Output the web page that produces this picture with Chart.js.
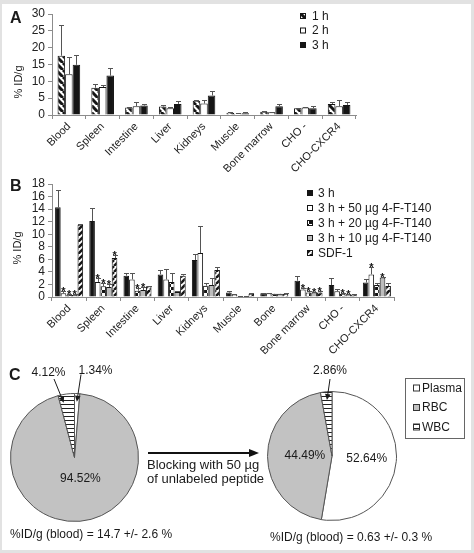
<!DOCTYPE html>
<html>
<head>
<meta charset="utf-8">
<title>Biodistribution</title>
<script src="https://cdn.jsdelivr.net/npm/chart.js@4.4.1/dist/chart.umd.min.js"></script>
<style>
  html, body { margin: 0; padding: 0; }
  body { width: 474px; height: 553px; background: #e2e2e2; position: relative; overflow: hidden;
         font-family: "Liberation Sans", Arial, sans-serif; color: #1a1a1a; }
  #paper { position: absolute; left: 2px; top: 4px; width: 469px; height: 546px; background: #fff; }
  canvas, .txt, svg { position: absolute; }
  .letter { font-weight: bold; font-size: 16px; line-height: 16px; }
  .ytitle { font-size: 11px; line-height: 11px; white-space: nowrap; transform: translate(-50%, -50%) rotate(-90deg); }
  .note { font-size: 12px; line-height: 14px; white-space: nowrap; }
  .block { font-size: 13px; line-height: 14px; white-space: nowrap; }
</style>
</head>
<body>
<div id="paper"></div>

<canvas id="chartA" width="470" height="172" style="left:0;top:0"></canvas>
<canvas id="chartB" width="470" height="192" style="left:0;top:170px"></canvas>
<canvas id="pieBefore" width="150" height="175" style="left:0;top:360px"></canvas>
<canvas id="pieAfter" width="210" height="185" style="left:260px;top:360px"></canvas>

<div class="txt letter" style="left:10px;top:9.5px">A</div>
<div class="txt letter" style="left:10px;top:177.5px">B</div>
<div class="txt letter" style="left:9px;top:366.5px">C</div>
<div class="txt ytitle" style="left:18px;top:82px">% ID/g</div>
<div class="txt ytitle" style="left:17px;top:248px">% ID/g</div>

<svg width="474" height="553" style="left:0;top:0">
  <line x1="148" y1="453" x2="251" y2="453" stroke="#111" stroke-width="2"/>
  <polygon points="259,453 249,449 249,457" fill="#111"/>
</svg>
<div class="txt block" style="left:147px;top:457.5px">Blocking with 50 µg<br>of unlabeled peptide</div>
<div class="txt note" style="left:10px;top:527px">%ID/g (blood) = 14.7 +/- 2.6 %</div>
<div class="txt note" style="left:270px;top:530px">%ID/g (blood) = 0.63 +/- 0.3 %</div>

<script>
// ---------- data ----------
// panel A: uptake over time
const organsA = ['Blood', 'Spleen', 'Intestine', 'Liver', 'Kidneys', 'Muscle', 'Bone marrow', 'CHO -', 'CHO-CXCR4'];
const timeLabels = ['1 h', '2 h', '3 h'];
const hour1   = [17.6, 8.1, 2.2, 2.5, 4.2, 0.7, 1.0, 2.0, 3.3];
const hour1Sd = [9.2, 1.0, 0.2, 0.5, 0.2, 0.1, 0.2, 0.2, 0.7];
const hour2   = [12.1, 8.3, 2.6, 2.0, 3.4, 0.4, 0.8, 2.2, 2.6];
const hour2Sd = [5.1, 0.6, 1.2, 0.4, 1.0, 0.1, 0.1, 0.1, 1.8];
const hour3   = [14.9, 11.7, 2.8, 3.3, 5.8, 0.5, 2.6, 2.0, 3.0];
const hour3Sd = [2.8, 2.2, 0.4, 0.9, 1.2, 0.3, 0.7, 0.7, 0.8];
const yTicksA = [0, 5, 10, 15, 20, 25, 30];

// panel B: blocking
const organsB = ['Blood', 'Spleen', 'Intestine', 'Liver', 'Kidneys', 'Muscle', 'Bone', 'Bone marrow', 'CHO -', 'CHO-CXCR4'];
const blockLabels = ['3 h', '3 h + 50 µg 4-F-T140', '3 h + 20 µg 4-F-T140', '3 h + 10 µg 4-F-T140', 'SDF-1'];
const b3h     = [14.3, 12.1, 3.4, 3.6, 5.9, 0.7, 0.6, 2.6, 1.9, 2.3];
const b3hSd   = [2.7, 2.0, 0.5, 0.7, 0.9, 0.3, 0.1, 0.8, 1.1, 0.5];
const b50     = [0.6, 2.4, 2.8, 2.8, 7.0, 0.4, 0.6, 1.2, 0.9, 3.6];
const b50Sd   = [0.4, 0.6, 1.1, 1.6, 4.3, 0.1, 0.1, 0.3, 0.3, 1.2];
const b20     = [0.3, 1.7, 1.0, 2.4, 1.8, 0.1, 0.5, 0.7, 0.5, 1.9];
const b20Sd   = [0.1, 0.5, 0.4, 1.5, 0.4, 0.05, 0.05, 0.2, 0.1, 0.3];
const b10     = [0.3, 1.6, 1.1, 0.8, 1.9, 0.1, 0.5, 0.7, 0.4, 3.1];
const b10Sd   = [0.1, 0.4, 0.5, 0.1, 1.1, 0.05, 0.05, 0.1, 0.1, 0.1];
const bSdf    = [11.5, 6.2, 1.7, 3.4, 4.3, 0.5, 0.5, 0.7, 0.4, 1.75];
const bSdfSd  = [0.1, 0.5, 0.1, 0.3, 0.4, 0.1, 0.1, 0.2, 0.1, 0.5];
// significance marks (*)
const star50  = [1, 1, 0, 0, 0, 0, 0, 1, 0, 1];
const star20  = [1, 1, 1, 0, 0, 0, 0, 1, 1, 0];
const star10  = [1, 1, 1, 0, 0, 0, 0, 1, 1, 1];
const starSdf = [0, 1, 0, 0, 0, 0, 0, 1, 0, 0];
const yTicksB = [0, 2, 4, 6, 8, 10, 12, 14, 16, 18];

// panel C: blood fractions
const fractions = ['Plasma', 'RBC', 'WBC'];
const bloodBefore = [1.34, 94.52, 4.12];
const bloodAfter  = [52.64, 44.49, 2.86];

// ---------- look ----------
const FONT = '"Liberation Sans", Arial, sans-serif';
Chart.defaults.font.family = FONT;
Chart.defaults.color = '#222';
Chart.defaults.animation = false;
const AXIS = '#8c8c8c';
const INK = '#151515';

// fill patterns
function stripes(dir, size, lw) {
    const c = document.createElement('canvas');
    c.width = c.height = size;
    const g = c.getContext('2d');
    g.fillStyle = '#fff';
    g.fillRect(0, 0, size, size);
    g.strokeStyle = INK;
    g.lineWidth = lw;
    for (let k = -1; k <= 1; k++) {
        g.beginPath();
        if (dir === 'down') {
            g.moveTo(k * size, 0); g.lineTo(k * size + size, size);
        } else {
            g.moveTo(k * size, size); g.lineTo(k * size + size, 0);
        }
        g.stroke();
    }
    return g.createPattern(c, 'repeat');
}
function checker(sq) {
    const c = document.createElement('canvas');
    c.width = c.height = sq * 2;
    const g = c.getContext('2d');
    g.fillStyle = '#fff';
    g.fillRect(0, 0, sq * 2, sq * 2);
    g.fillStyle = INK;
    g.fillRect(0, 0, sq, sq);
    g.fillRect(sq, sq, sq, sq);
    return g.createPattern(c, 'repeat');
}
function hlines(gap) {
    const c = document.createElement('canvas');
    c.width = 4; c.height = gap;
    const g = c.getContext('2d');
    g.fillStyle = '#fff';
    g.fillRect(0, 0, 4, gap);
    g.fillStyle = '#222';
    g.fillRect(0, 0, 4, 1);
    return g.createPattern(c, 'repeat');
}

// error bars (upper half) and significance stars
const errorBars = {
    id: 'errorBars',
    afterDatasetsDraw(chart) {
        const ctx = chart.ctx;
        const yScale = chart.scales.y;
        ctx.save();
        chart.data.datasets.forEach((ds, di) => {
            chart.getDatasetMeta(di).data.forEach((bar, i) => {
                const x = Math.round(bar.x) + 0.5;
                let top = bar.y;
                if (ds.sd && ds.sd[i] > 0) {
                    top = Math.round(yScale.getPixelForValue(ds.data[i] + ds.sd[i])) + 0.5;
                    ctx.strokeStyle = '#555';
                    ctx.lineWidth = 1;
                    ctx.beginPath();
                    ctx.moveTo(x, bar.y);
                    ctx.lineTo(x, top);
                    ctx.moveTo(x - 2.5, top);
                    ctx.lineTo(x + 2.5, top);
                    ctx.stroke();
                }
                if (ds.stars && ds.stars[i]) {
                    ctx.fillStyle = INK;
                    ctx.font = 'bold 11px ' + FONT;
                    ctx.textAlign = 'center';
                    ctx.textBaseline = 'alphabetic';
                    ctx.fillText('*', bar.x, top + 3);
                }
            });
        });
        ctx.restore();
    }
};

// y tick labels, one per value of the tick list, placed by the y scale
const yLabels = {
    id: 'yLabels',
    afterDraw(chart, args, opts) {
        const ctx = chart.ctx;
        const scale = chart.scales.y;
        ctx.save();
        ctx.font = '12px ' + FONT;
        ctx.fillStyle = '#222';
        ctx.textAlign = 'right';
        ctx.textBaseline = 'middle';
        opts.values.forEach(v => {
            ctx.fillText(String(v), scale.right - 7, scale.getPixelForValue(v));
        });
        ctx.restore();
    }
};

// small square legend like the original
const squareLegend = {
    id: 'squareLegend',
    afterDraw(chart, args, opts) {
        const ctx = chart.ctx;
        ctx.save();
        ctx.font = '12px ' + FONT;
        ctx.textBaseline = 'middle';
        ctx.textAlign = 'left';
        chart.data.datasets.forEach((ds, i) => {
            const y = opts.top + i * opts.gap;
            ctx.fillStyle = ds.backgroundColor;
            ctx.fillRect(opts.left, y - 3, 6, 6);
            ctx.strokeStyle = INK;
            ctx.lineWidth = 1;
            ctx.strokeRect(opts.left + 0.5, y - 2.5, 5, 5);
            ctx.fillStyle = '#1a1a1a';
            ctx.fillText(ds.label, opts.left + opts.textGap, y + 0.5);
        });
        ctx.restore();
    }
};

function barChart(canvasId, labels, datasets, yTicks, opts) {
    const fixedTicks = () => yTicks.map(v => ({ value: v, label: String(v) }));
    return new Chart(document.getElementById(canvasId), {
        type: 'bar',
        data: { labels: labels, datasets: datasets },
        options: {
            responsive: false,
            layout: { padding: opts.padding },
            datasets: {
                bar: {
                    categoryPercentage: opts.group,
                    barPercentage: 1.0,
                    borderColor: INK,
                    borderWidth: 1
                }
            },
            scales: {
                x: {
                    grid: { display: true, drawOnChartArea: false, drawTicks: true, tickLength: 4, color: AXIS, offset: true },
                    border: { color: AXIS },
                    ticks: { minRotation: 45, maxRotation: 45, autoSkip: false, padding: 1, font: { size: 11 }, color: '#222' },
                    afterFit: function(scale) { scale.height = opts.xHeight; }
                },
                y: {
                    min: yTicks[0],
                    max: yTicks[yTicks.length - 1],
                    // labels are drawn by the yLabels plugin
                    ticks: { display: false, autoSkip: false },
                    grid: { drawOnChartArea: false, tickLength: 4, color: AXIS },
                    border: { color: AXIS },
                    afterBuildTicks: function(scale) { scale.ticks = fixedTicks(); },
                    afterFit: function(scale) {
                        scale.ticks = fixedTicks();
                        scale.width = 48;
                    }
                }
            },
            plugins: {
                legend: { display: false },
                tooltip: { enabled: false },
                squareLegend: opts.legend,
                yLabels: { values: yTicks }
            }
        },
        plugins: [errorBars, yLabels, squareLegend]
    });
}

// ---------- panel A ----------
const seriesA = [hour1, hour2, hour3];
const sdA = [hour1Sd, hour2Sd, hour3Sd];
const fillA = [stripes('down', 7, 3), '#fff', INK];
barChart('chartA', organsA, timeLabels.map((lab, i) => ({
    label: lab,
    data: seriesA[i],
    sd: sdA[i],
    backgroundColor: fillA[i]
})), yTicksA, {
    padding: { top: 14, left: 4, right: 114, bottom: 0 },
    xHeight: 57,
    group: 0.67,
    legend: { left: 300, top: 16, gap: 14.5, textGap: 12 }
});

// ---------- panel B ----------
const seriesB = [b3h, b50, b20, b10, bSdf];
const sdB = [b3hSd, b50Sd, b20Sd, b10Sd, bSdfSd];
const starsB = [null, star50, star20, star10, starSdf];
const fillB = [INK, '#fff', checker(3), '#bdbdbd', stripes('up', 6, 2.5)];
barChart('chartB', organsB, blockLabels.map((lab, i) => ({
    label: lab,
    data: seriesB[i],
    sd: sdB[i],
    stars: starsB[i],
    backgroundColor: fillB[i]
})), yTicksB, {
    padding: { top: 14, left: 4, right: 76, bottom: 0 },
    xHeight: 65,
    group: 0.82,
    legend: { left: 307, top: 23, gap: 15, textGap: 11 }
});

// ---------- panel C ----------
const fillC = ['#fff', '#c2c2c2', hlines(4)];

function arrow(ctx, sx, sy, tx, ty) {
    const a = Math.atan2(ty - sy, tx - sx);
    ctx.beginPath();
    ctx.moveTo(sx, sy);
    ctx.lineTo(tx - Math.cos(a) * 4, ty - Math.sin(a) * 4);
    ctx.stroke();
    ctx.beginPath();
    ctx.moveTo(tx, ty);
    ctx.lineTo(tx - Math.cos(a) * 6 - Math.sin(a) * 2.8, ty - Math.sin(a) * 6 + Math.cos(a) * 2.8);
    ctx.lineTo(tx - Math.cos(a) * 6 + Math.sin(a) * 2.8, ty - Math.sin(a) * 6 - Math.cos(a) * 2.8);
    ctx.closePath();
    ctx.fill();
}

// percentage labels: inside big slices, arrowed callouts for thin ones
const pieNotes = {
    id: 'pieNotes',
    afterDraw(chart, args, opts) {
        const ctx = chart.ctx;
        const arcs = chart.getDatasetMeta(0).data;
        const values = chart.data.datasets[0].data;
        ctx.save();
        ctx.font = '12px ' + FONT;
        ctx.fillStyle = '#1a1a1a';
        ctx.strokeStyle = '#1a1a1a';
        ctx.lineWidth = 1;
        ctx.textAlign = 'center';
        ctx.textBaseline = 'middle';
        (opts.inside || []).forEach(n => {
            const a = arcs[n.index];
            const mid = (a.startAngle + a.endAngle) / 2;
            const d = a.outerRadius * n.r;
            ctx.fillText(values[n.index].toFixed(2) + '%', a.x + Math.cos(mid) * d + (n.dx || 0), a.y + Math.sin(mid) * d);
        });
        (opts.callouts || []).forEach(n => {
            const a = arcs[n.index];
            const ang = a.startAngle + (a.endAngle - a.startAngle) * n.along;
            const tx = a.x + Math.cos(ang) * a.outerRadius * 0.87;
            const ty = a.y + Math.sin(ang) * a.outerRadius * 0.87;
            arrow(ctx, a.x + n.from[0], a.y + n.from[1], tx, ty);
            ctx.fillText(values[n.index].toFixed(2) + '%', a.x + n.text[0], a.y + n.text[1]);
        });
        if (opts.key) {
            const k = opts.key;
            ctx.strokeStyle = '#666';
            ctx.strokeRect(k.left + 0.5, k.top + 0.5, k.w, k.h);
            ctx.textAlign = 'left';
            chart.data.labels.forEach((lab, i) => {
                const y = k.top + k.first + i * k.gap;
                ctx.fillStyle = chart.data.datasets[0].backgroundColor[i];
                ctx.fillRect(k.left + 8, y - 3.5, 7, 7);
                ctx.strokeStyle = '#333';
                ctx.strokeRect(k.left + 8.5, y - 3, 6, 6);
                ctx.fillStyle = '#1a1a1a';
                ctx.fillText(lab, k.left + 17, y + 0.5);
            });
        }
        ctx.restore();
    }
};

function pieChart(canvasId, values, padding, notes) {
    return new Chart(document.getElementById(canvasId), {
        type: 'pie',
        data: {
            labels: fractions,
            datasets: [{
                data: values,
                backgroundColor: fillC,
                borderColor: '#555',
                borderWidth: 1
            }]
        },
        options: {
            responsive: false,
            layout: { padding: padding },
            plugins: {
                legend: { display: false },
                tooltip: { enabled: false },
                pieNotes: notes
            }
        },
        plugins: [pieNotes]
    });
}

pieChart('pieBefore', bloodBefore, { left: 10, top: 33, right: 11, bottom: 13 }, {
    inside: [{ index: 1, r: 0.34, dx: 4 }],
    callouts: [
        { index: 2, along: 0.25, from: [-20.5, -78.5], text: [-26, -84.5] },
        { index: 0, along: 0.5, from: [6.5, -83], text: [21, -86.5] }
    ]
});

pieChart('pieAfter', bloodAfter, { left: 7, top: 31, right: 73, bottom: 24 }, {
    inside: [{ index: 0, r: 0.54 }, { index: 1, r: 0.42 }],
    callouts: [
        { index: 2, along: 0.5, from: [-2, -77], text: [-2, -85] }
    ],
    key: { left: 145, top: 18, w: 59, h: 60, first: 10, gap: 19.5 }
});
</script>
</body>
</html>
